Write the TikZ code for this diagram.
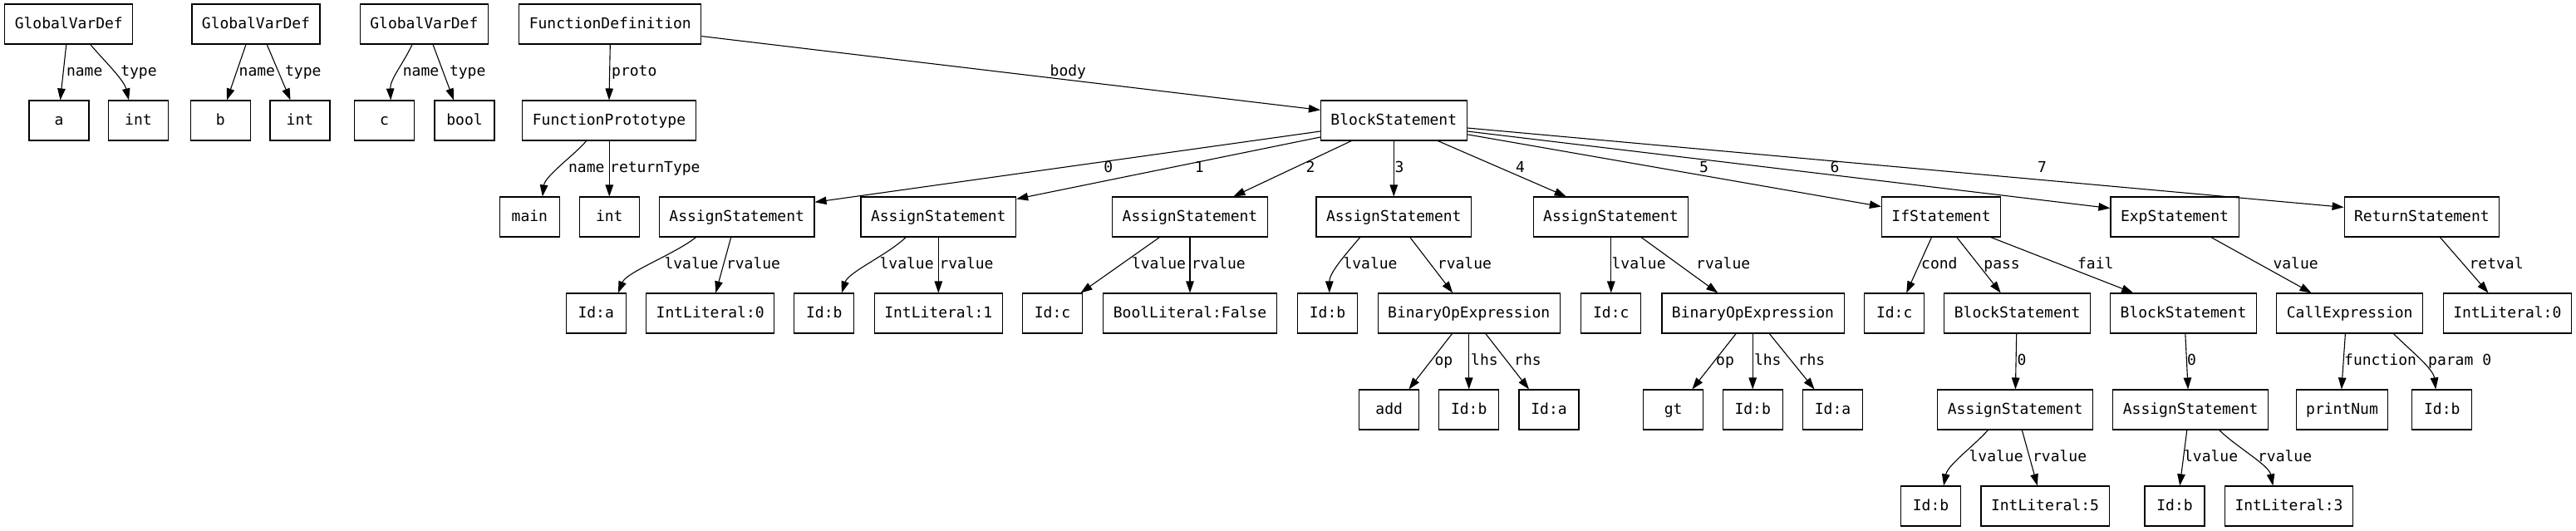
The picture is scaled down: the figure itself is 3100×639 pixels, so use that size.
\documentclass[tikz,border=0pt]{standalone}
\usepackage{fontspec}
\setmonofont{DejaVu Sans Mono}
\usetikzlibrary{arrows.meta}
\newcommand{\gvfont}{\ttfamily\fontsize{18}{20}\selectfont}
\tikzset{
  box/.style={draw, line width=1.1pt, minimum width=72pt, minimum height=48pt,
    inner xsep=12pt, inner ysep=0pt, text height=10.6pt, text depth=0pt, font=\gvfont},
  lbl/.style={inner sep=0pt, anchor=west, text height=10.6pt, text depth=0pt, font=\gvfont},
  edge/.style={-{Triangle[length=14pt,width=9.5pt]}, line width=1.1pt}
}
\begin{document}
\begin{tikzpicture}[x=1pt,y=-1pt]
\useasboundingbox (0,0) rectangle (3100,639);
\fill[white] (0,0) rectangle (3100,639);
% row 1
\node[box] (g1) at (82.8,29) {GlobalVarDef};
\node[box] (g2) at (308,29) {GlobalVarDef};
\node[box] (g3) at (510.4,29) {GlobalVarDef};
\node[box] (fd) at (734.3,29) {FunctionDefinition};
% row 2
\node[box] (a) at (71,145) {a};
\node[box] (t1) at (166.5,145) {int};
\node[box] (b) at (265.4,145) {b};
\node[box] (t2) at (361,145) {int};
\node[box] (c) at (462.6,145) {c};
\node[box] (tb) at (559,145) {bool};
\node[box] (fp) at (733,145) {FunctionPrototype};
\node[box] (bs) at (1677.3,145) {BlockStatement};
% row 3
\node[box] (mn) at (637.4,261) {main};
\node[box] (t3) at (733.3,261) {int};
\node[box] (s0) at (886.7,261) {AssignStatement};
\node[box] (s1) at (1129.3,261) {AssignStatement};
\node[box] (s2) at (1432,261) {AssignStatement};
\node[box] (s3) at (1677.3,261) {AssignStatement};
\node[box] (s4) at (1938.5,261) {AssignStatement};
\node[box] (ifs) at (2336,261) {IfStatement};
\node[box] (exs) at (2617,261) {ExpStatement};
\node[box] (rts) at (2914.4,261) {ReturnStatement};
% row 4
\node[box] (ida) at (717.2,377) {Id:a};
\node[box] (il0) at (854.7,377) {IntLiteral:0};
\node[box] (idb1) at (991.8,377) {Id:b};
\node[box] (il1) at (1129.3,377) {IntLiteral:1};
\node[box] (idc1) at (1266.5,377) {Id:c};
\node[box] (bl) at (1432,377) {BoolLiteral:False};
\node[box] (idb2) at (1597.5,377) {Id:b};
\node[box] (bo1) at (1767.7,377) {BinaryOpExpression};
\node[box] (idc2) at (1938.8,377) {Id:c};
\node[box] (bo2) at (2109.5,377) {BinaryOpExpression};
\node[box] (idc3) at (2279.7,377) {Id:c};
\node[box] (bsp) at (2427.7,377) {BlockStatement};
\node[box] (bsf) at (2627.5,377) {BlockStatement};
\node[box] (ce) at (2827.7,377) {CallExpression};
\node[box] (ilr) at (3017.3,377) {IntLiteral:0};
% row 5
\node[box] (add) at (1671.7,493) {add};
\node[box] (idb3) at (1767.7,493) {Id:b};
\node[box] (ida2) at (1864,493) {Id:a};
\node[box] (gt) at (2013.6,493) {gt};
\node[box] (idb4) at (2109.2,493) {Id:b};
\node[box] (ida3) at (2205.5,493) {Id:a};
\node[box] (asp) at (2425.1,493) {AssignStatement};
\node[box] (asf) at (2636.1,493) {AssignStatement};
\node[box] (pn) at (2818.5,493) {printNum};
\node[box] (idb5) at (2938.8,493) {Id:b};
% row 6
\node[box] (idb6) at (2323.5,609) {Id:b};
\node[box] (il5) at (2461,609) {IntLiteral:5};
\node[box] (idb7) at (2617,609) {Id:b};
\node[box] (il3) at (2754.5,609) {IntLiteral:3};

% edges
\draw[edge] ([xshift=-3pt]g1.south) -- ([xshift=1.5pt]a.north);
\draw[edge] ([xshift=26pt]g1.south) .. controls +(14,17) and +(-6,-25) .. ([xshift=-11.5pt]t1.north);
\draw[edge] ([xshift=-12pt]g2.south) -- ([xshift=7.6pt]b.north);
\draw[edge] ([xshift=13.2pt]g2.south) -- ([xshift=-11.5pt]t2.north);
\draw[edge] ([xshift=-14.4pt]g3.south) .. controls +(-10,22) and +(-1,-25) .. ([xshift=7.6pt]c.north);
\draw[edge] ([xshift=10.6pt]g3.south) -- ([xshift=-13pt]tb.north);
\draw[edge] (fd.south) -- (fp.north);
\draw[edge] ([yshift=-14.6pt]fd.east) -- ([yshift=12.6pt]bs.west);
\draw[edge] ([xshift=-27.4pt]fp.south) .. controls +(-12,15) and +(3,-25) .. ([xshift=15.5pt]mn.north);
\draw[edge] ([xshift=0.3pt]fp.south) -- (t3.north);
\draw[edge] ([yshift=-13pt]bs.west) -- ([yshift=17.7pt]s0.east);
\draw[edge] ([yshift=-20pt]bs.west) -- ([yshift=-3pt]s1.north east);
\draw[edge] ([xshift=-51pt]bs.south) -- ([xshift=52.4pt]s2.north);
\draw[edge] (bs.south) -- (s3.north);
\draw[edge] ([xshift=53pt]bs.south) -- ([xshift=-53.8pt]s4.north);
\draw[edge] ([yshift=-16.8pt]bs.east) -- ([yshift=12.4pt]ifs.west);
\draw[edge] ([yshift=-13pt]bs.east) -- ([yshift=10.4pt]exs.west);
\draw[edge] ([yshift=-9pt]bs.east) -- ([yshift=11.6pt]rts.west);
\draw[edge] ([xshift=-49.2pt]s0.south) .. controls +(-25,20) and +(10,-25) .. ([xshift=26.7pt]ida.north);
\draw[edge] ([xshift=-7pt]s0.south) -- ([xshift=6.6pt]il0.north);
\draw[edge] ([xshift=-39.3pt]s1.south) .. controls +(-20,20) and +(8,-25) .. ([xshift=21.1pt]idb1.north);
\draw[edge] (s1.south) -- (il1.north);
\draw[edge] ([xshift=-36.6pt]s2.south) -- ([xshift=34pt]idc1.north);
\draw[edge] (s2.south) -- (bl.north);
\draw[edge] ([xshift=-40.6pt]s3.south) .. controls +(-15,18) and +(0,-25) .. ([xshift=2.3pt]idb2.north);
\draw[edge] ([xshift=19.5pt]s3.south) -- ([xshift=-19.5pt]bo1.north);
\draw[edge] ([xshift=0.3pt]s4.south) -- (idc2.north);
\draw[edge] ([xshift=36.5pt]s4.south) -- ([xshift=-42.2pt]bo2.north);
\draw[edge] ([xshift=-11.5pt]ifs.south) -- ([xshift=14.5pt]idc3.north);
\draw[edge] ([xshift=18.8pt]ifs.south) -- ([xshift=-20pt]bsp.north);
\draw[edge] ([xshift=59.7pt]ifs.south) -- ([xshift=-60.3pt]bsf.north);
\draw[edge] ([xshift=43.8pt]exs.south) -- ([xshift=-46.2pt]ce.north);
\draw[edge] ([xshift=22pt]rts.south) -- ([xshift=-22.8pt]ilr.north);
\draw[edge] ([xshift=-20.2pt]bo1.south) -- ([xshift=23.7pt]add.north);
\draw[edge] (bo1.south) -- (idb3.north);
\draw[edge] ([xshift=20.1pt]bo1.south) -- ([xshift=-24pt]ida2.north);
\draw[edge] ([xshift=-20.4pt]bo2.south) -- ([xshift=22.8pt]gt.north);
\draw[edge] ([xshift=-0.3pt]bo2.south) -- (idb4.north);
\draw[edge] ([xshift=19.8pt]bo2.south) -- ([xshift=-22pt]ida3.north);
\draw[edge] ([xshift=-1pt]bsp.south) -- ([xshift=0.3pt]asp.north);
\draw[edge] ([xshift=2.3pt]bsf.south) -- ([xshift=-3pt]asf.north);
\draw[edge] ([xshift=-5.3pt]ce.south) -- ([xshift=-0.7pt]pn.north);
\draw[edge] ([xshift=52.7pt]ce.south) .. controls +(20,20) and +(-3,-25) .. ([xshift=-7.6pt]idb5.north);
\draw[edge] ([xshift=-32.7pt]asp.south) .. controls +(-18,20) and +(5,-25) .. ([xshift=15.5pt]idb6.north);
\draw[edge] ([xshift=8.2pt]asp.south) -- ([xshift=-9.2pt]il5.north);
\draw[edge] ([xshift=-4.3pt]asf.south) -- ([xshift=6.2pt]idb7.north);
\draw[edge] ([xshift=34.6pt]asf.south) .. controls +(20,20) and +(-5,-25) .. ([xshift=-19.2pt]il3.north);

% edge labels
\node[lbl] (la1) at (79.8,86.5) {name};
\node[lbl] (la2) at (145.1,86.5) {type};
\node[lbl] (la3) at (287.5,86.5) {name};
\node[lbl] (la4) at (342.9,86.5) {type};
\node[lbl] (la5) at (484.7,86.5) {name};
\node[lbl] (la6) at (540.8,86.5) {type};
\node[lbl] (la7) at (736,86.5) {proto};
\node[lbl] (la8) at (1263.5,86.5) {body};
\node[lbl] (lb1) at (683.9,202.5) {name};
\node[lbl] (lb2) at (734,202.5) {returnType};
\node[lbl] (lb3) at (1328.1,202.5) {0};
\node[lbl] (lb4) at (1437.6,202.5) {1};
\node[lbl] (lb5) at (1571.5,202.5) {2};
\node[lbl] (lb6) at (1678.3,202.5) {3};
\node[lbl] (lb7) at (1824,202.5) {4};
\node[lbl] (lb8) at (2045,202.5) {5};
\node[lbl] (lb9) at (2202.5,202.5) {6};
\node[lbl] (lb10) at (2451.8,202.5) {7};
\node[lbl] (lc1) at (799.3,318.5) {lvalue};
\node[lbl] (lc2) at (873.8,318.5) {rvalue};
\node[lbl] (lc3) at (1058.4,318.5) {lvalue};
\node[lbl] (lc4) at (1130.3,318.5) {rvalue};
\node[lbl] (lc5) at (1361.8,318.5) {lvalue};
\node[lbl] (lc6) at (1433.6,318.5) {rvalue};
\node[lbl] (lc7) at (1616.3,318.5) {lvalue};
\node[lbl] (lc8) at (1729.7,318.5) {rvalue};
\node[lbl] (lc9) at (1939.4,318.5) {lvalue};
\node[lbl] (lc10) at (2041,318.5) {rvalue};
\node[lbl] (lc11) at (2312,318.5) {cond};
\node[lbl] (lc12) at (2387.2,318.5) {pass};
\node[lbl] (lc13) at (2499.9,318.5) {fail};
\node[lbl] (lc14) at (2735.3,318.5) {value};
\node[lbl] (lc15) at (2971.4,318.5) {retval};
\node[lbl] (ld1) at (1726.4,434.5) {op};
\node[lbl] (ld2) at (1770,434.5) {lhs};
\node[lbl] (ld3) at (1822,434.5) {rhs};
\node[lbl] (ld4) at (2065,434.5) {op};
\node[lbl] (ld5) at (2110.8,434.5) {lhs};
\node[lbl] (ld6) at (2163.6,434.5) {rhs};
\node[lbl] (ld7) at (2427.4,434.5) {0};
\node[lbl] (ld8) at (2631.8,434.5) {0};
\node[lbl] (ld9) at (2821,434.5) {function};
\node[lbl] (ld10) at (2922,434.5) {param 0};
\node[lbl] (le1) at (2369.4,550.5) {lvalue};
\node[lbl] (le2) at (2445.9,550.5) {rvalue};
\node[lbl] (le3) at (2627.9,550.5) {lvalue};
\node[lbl] (le4) at (2716.9,550.5) {rvalue};
\end{tikzpicture}
\end{document}
